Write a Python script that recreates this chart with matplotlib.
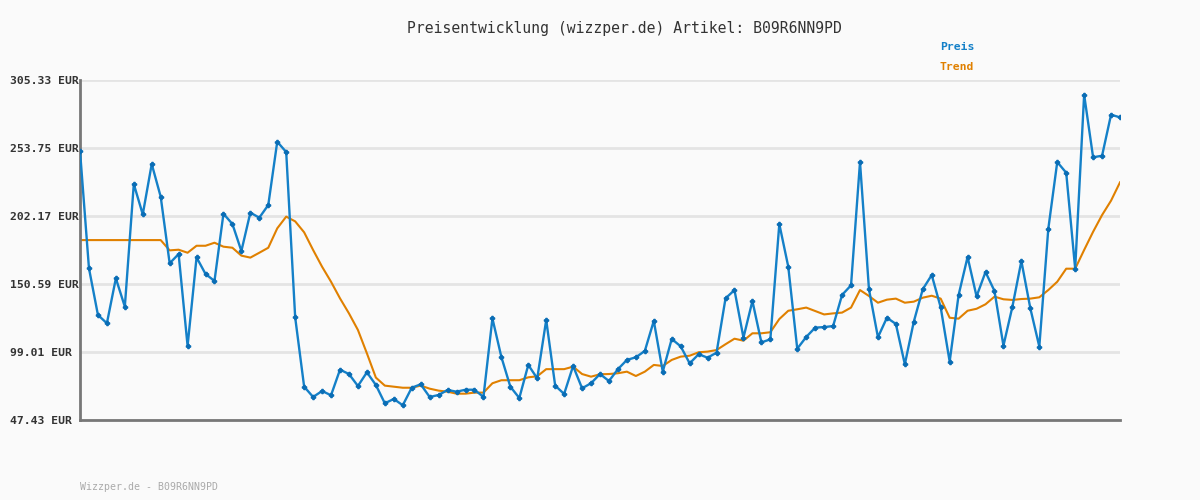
import numpy as np
import matplotlib
matplotlib.use("Agg")
import matplotlib.pyplot as plt

# Preis (EUR) per data point
preis = [251.7, 162.5, 127.1, 120.8, 154.9, 133.4, 226.4, 203.4, 241.6, 216.8,
         166.3, 173.3, 103.6, 170.8, 158.2, 152.9, 203.9, 196.1, 175.6, 204.7,
         200.9, 210.5, 258.5, 250.7, 125.3, 72.7, 64.9, 69.4, 66.2, 85.6,
         82.3, 73.2, 83.6, 74.0, 60.1, 63.4, 58.6, 71.9, 74.5, 64.9,
         66.4, 70.2, 68.9, 70.4, 70.4, 64.9, 124.5, 95.2, 72.7, 64.1,
         89.2, 79.0, 123.3, 73.5, 67.2, 88.4, 71.5, 75.3, 82.3, 77.0,
         86.0, 93.0, 95.0, 99.8, 122.6, 84.1, 108.9, 103.3, 90.4, 97.3,
         94.7, 98.5, 139.7, 146.0, 109.9, 137.7, 106.3, 108.6, 196.1, 163.7,
         101.5, 110.4, 117.5, 117.9, 118.7, 142.3, 149.6, 243.1, 146.6, 110.2,
         125.0, 120.3, 89.7, 122.0, 146.6, 157.4, 132.9, 91.7, 142.3, 171.1,
         141.2, 159.7, 145.3, 103.8, 133.4, 168.0, 132.1, 103.1, 192.3, 243.1,
         235.0, 162.2, 294.2, 246.7, 247.9, 279.0, 277.0]

trend = [183.9] * 10 + [
         176.1, 176.6, 174.3, 179.6, 179.6, 181.9, 178.9, 178.1, 172.1, 170.6,
         174.3, 178.1, 192.8, 201.7, 198.1, 189.8, 176.4, 163.7, 152.3, 139.7,
         128.3, 115.7, 98.0, 79.6, 73.5, 72.7, 71.9, 71.9, 73.5, 71.2,
         69.7, 68.9, 67.4, 67.4, 68.2, 68.2, 75.3, 77.6, 77.6, 77.6,
         79.8, 80.6, 86.0, 86.0, 86.0, 87.9, 82.3, 80.3, 82.1, 82.3,
         82.9, 84.1, 80.8, 84.1, 89.2, 88.4, 93.0, 95.5, 96.2, 98.8,
         99.3, 100.5, 104.9, 109.1, 107.6, 113.2, 113.2, 114.0, 124.0, 130.3,
         131.4, 132.7, 130.1, 127.5, 128.3, 128.9, 132.7, 146.0, 141.5, 136.4,
         138.7, 139.5, 136.4, 137.2, 140.2, 141.7, 139.5, 125.0, 124.3, 130.3,
         131.8, 135.2, 141.0, 139.0, 138.5, 139.2, 139.5, 140.5, 146.0, 152.3,
         162.2, 162.2, 176.4, 190.2, 202.9, 213.8, 227.7]

y_ticks = [47.43, 99.01, 150.59, 202.17, 253.75, 305.33]
y_labels = ["47.43 EUR", "99.01 EUR", "150.59 EUR", "202.17 EUR", "253.75 EUR", "305.33 EUR"]
artikel = "B09R6NN9PD"

blue = "#1480c8"
orange = "#e08000"
mono = ["DejaVu Sans Mono"]

fig = plt.figure(figsize=(12, 5), dpi=100, facecolor="#fafafa")
ax = fig.add_axes([80 / 1200, 1 - 420 / 500, 1040 / 1200, 340 / 500])
ax.set_facecolor("#fafafa")

x = np.arange(len(preis))
ax.plot(x, preis, color=blue, lw=1.7, marker="P", ms=3, mfc="#0a6db5", mec="#0a6db5",
        zorder=3, solid_joinstyle="round")
ax.plot(np.arange(len(trend)), trend, color=orange, lw=1.5, zorder=2)

ax.set_xlim(0, len(preis) - 1)
ax.set_ylim(y_ticks[0], y_ticks[-1])
ax.set_xticks([])
ax.set_yticks(y_ticks)
ax.set_yticklabels(y_labels, family=mono, fontsize=8.2, fontweight="bold",
                   color="#333333", ha="left")
ax.tick_params(axis="y", length=0, pad=50.4)
ax.grid(axis="y", color="#e4e4e4", lw=2)
ax.set_axisbelow(True)
for s in ["top", "right"]:
    ax.spines[s].set_visible(False)
ax.spines["left"].set_color("#777777")
ax.spines["left"].set_linewidth(2)
ax.spines["bottom"].set_color("#777777")
ax.spines["bottom"].set_linewidth(2)

fig.text(624 / 1200, 1 - 28 / 500, "Preisentwicklung (wizzper.de) Artikel: " + artikel,
         family=mono, fontsize=10.6, color="#333333", ha="center", va="center")
fig.text(940 / 1200, 1 - 47 / 500, "Preis", family=mono, fontsize=8.2,
         fontweight="bold", color=blue, ha="left", va="center")
fig.text(940 / 1200, 1 - 67 / 500, "Trend", family=mono, fontsize=8.2,
         fontweight="bold", color=orange, ha="left", va="center")
fig.text(80 / 1200, 1 - 487 / 500, "Wizzper.de - " + artikel, family=mono,
         fontsize=7.1, color="#aaaaaa", ha="left", va="center")

fig.savefig("out.png", dpi=100, facecolor=fig.get_facecolor())
